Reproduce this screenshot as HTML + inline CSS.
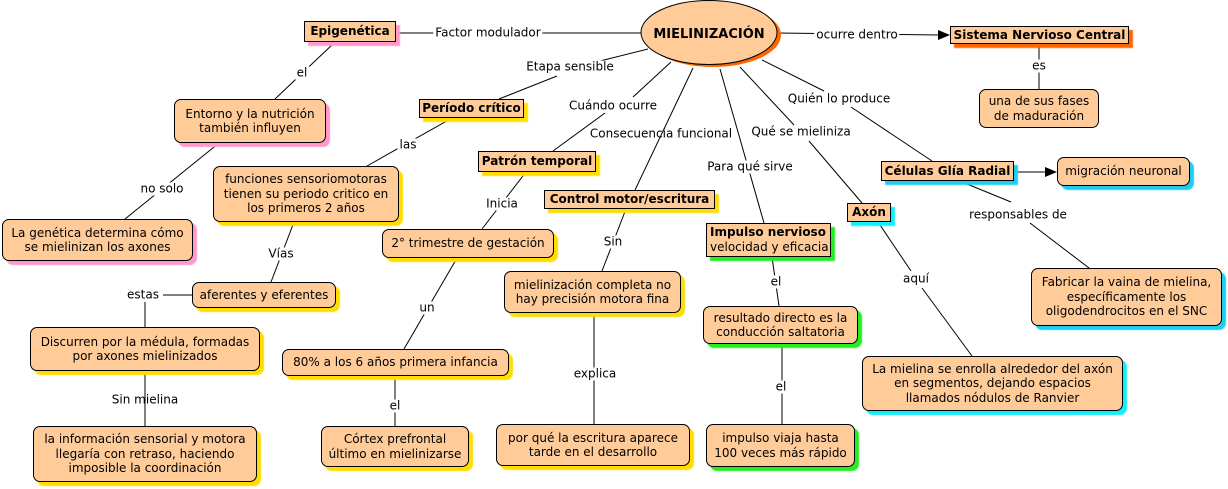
<!DOCTYPE html>
<html><head><meta charset="utf-8"><style>
body{margin:0;background:#fff;}
#c{position:relative;width:1228px;height:489px;overflow:hidden;background:#fff;font-family:"DejaVu Sans","Liberation Sans",sans-serif;font-size:12px;color:#000;}
.n{position:absolute;box-sizing:border-box;background:#ffcc99;border:1px solid #000;display:flex;align-items:center;justify-content:center;text-align:center;line-height:14.5px;white-space:nowrap;}
.r{border-radius:7px;}
.b{font-weight:bold;}
.l{position:absolute;transform:translate(-50%,-50%);background:#fff;padding:0 2px;line-height:13px;white-space:nowrap;}
.pk{box-shadow:4px 4px 1px #ff99cc;}
.or{box-shadow:4px 4px 1px #ff6600;}
.ye{box-shadow:4px 4px 1px #ffdd00;}
.gr{box-shadow:4px 4px 1px #22ee22;}
.cy{box-shadow:4px 4px 1px #22ccf0;}
.cy2{box-shadow:4px 4px 1px #11eeff;}
svg{position:absolute;left:0;top:0;}
</style></head><body><div id="c">
<svg width="1228" height="489">
<g stroke="#000" stroke-width="1" fill="none">
<line x1="396" y1="33" x2="642" y2="33"/>
<line x1="777" y1="33" x2="940" y2="35"/>
<line x1="1039" y1="43" x2="1039" y2="89"/>
<line x1="648" y1="49" x2="600" y2="61"/>
<line x1="557" y1="76" x2="499" y2="99"/>
<line x1="671" y1="62" x2="633" y2="97"/>
<line x1="605" y1="113" x2="553" y2="151"/>
<line x1="693" y1="68" x2="635" y2="190"/>
<line x1="720" y1="69" x2="764" y2="223"/>
<line x1="740" y1="67" x2="794" y2="125"/>
<line x1="809" y1="141" x2="862" y2="203"/>
<line x1="762" y1="60" x2="824" y2="91"/>
<line x1="851" y1="107" x2="932" y2="161"/>
<line x1="1014" y1="172" x2="1046" y2="172"/>
<line x1="967" y1="184" x2="1011" y2="202"/>
<line x1="1030" y1="223" x2="1089" y2="268"/>
<line x1="878" y1="222" x2="911" y2="271"/>
<line x1="922" y1="288" x2="972" y2="356"/>
<line x1="334" y1="43" x2="275" y2="99"/>
<line x1="219" y1="143" x2="125" y2="219"/>
<line x1="452" y1="118" x2="367" y2="166"/>
<line x1="294" y1="222" x2="271" y2="282"/>
<line x1="163" y1="295" x2="192" y2="295"/>
<line x1="145" y1="302" x2="145" y2="327"/>
<line x1="145" y1="371" x2="145" y2="426"/>
<line x1="526" y1="172" x2="482" y2="229"/>
<line x1="457" y1="258" x2="404" y2="349"/>
<line x1="395" y1="376" x2="395" y2="426"/>
<line x1="626" y1="209" x2="602" y2="271"/>
<line x1="594" y1="313" x2="594" y2="424"/>
<line x1="772" y1="257" x2="779" y2="306"/>
<line x1="782" y1="344" x2="782" y2="424"/>
</g>
<polygon points="938,30 950,35 938,40" fill="#000"/>
<polygon points="1045,167 1057,172 1045,177" fill="#000"/>
<ellipse cx="713" cy="35" rx="68" ry="32" fill="#ff6600"/>
<ellipse cx="709" cy="32.5" rx="68" ry="32" fill="#ffcc99" stroke="#000" stroke-width="1"/>
<text x="709" y="38" text-anchor="middle" font-family="DejaVu Sans, Liberation Sans, sans-serif" font-weight="bold" font-size="13">MIELINIZACIÓN</text>
</svg>

<div class="n b pk" style="left:304px;top:21px;width:92px;height:21px;">Epigenética</div>
<div class="n b or" style="left:950px;top:26px;width:179px;height:18px;">Sistema Nervioso Central</div>
<div class="n r" style="left:979px;top:89px;width:120px;height:39px;">una de sus fases<br>de maduración</div>
<div class="n b cy" style="left:881px;top:161px;width:133px;height:20px;">Células Glía Radial</div>
<div class="n r cy" style="left:1057px;top:157px;width:133px;height:29px;">migración neuronal</div>
<div class="n b cy2" style="left:847px;top:203px;width:44px;height:19px;">Axón</div>
<div class="n r cy" style="left:1031px;top:268px;width:191px;height:58px;">Fabricar la vaina de mielina,<br>específicamente los<br>oligodendrocitos en el SNC</div>
<div class="n r cy2" style="left:862px;top:356px;width:261px;height:55px;">La mielina se enrolla alrededor del axón<br>en segmentos, dejando espacios<br>llamados nódulos de Ranvier</div>
<div class="n gr" style="left:706px;top:223px;width:125px;height:34px;display:block;text-align:left;padding:1px 3px;"><b>Impulso nervioso</b><br>velocidad y eficacia</div>
<div class="n r gr" style="left:703px;top:306px;width:155px;height:38px;">resultado directo es la<br>conducción saltatoria</div>
<div class="n r gr" style="left:706px;top:424px;width:149px;height:43px;">impulso viaja hasta<br>100 veces más rápido</div>
<div class="n b ye" style="left:544px;top:190px;width:171px;height:19px;">Control motor/escritura</div>
<div class="n r ye" style="left:504px;top:271px;width:177px;height:42px;">mielinización completa no<br>hay precisión motora fina</div>
<div class="n r ye" style="left:496px;top:424px;width:194px;height:42px;">por qué la escritura aparece<br>tarde en el desarrollo</div>
<div class="n b ye" style="left:478px;top:151px;width:118px;height:21px;">Patrón temporal</div>
<div class="n b ye" style="left:419px;top:99px;width:105px;height:19px;">Período crítico</div>
<div class="n r ye" style="left:382px;top:229px;width:172px;height:29px;">2° trimestre de gestación</div>
<div class="n r ye" style="left:282px;top:349px;width:227px;height:27px;">80% a los 6 años primera infancia</div>
<div class="n r ye" style="left:321px;top:426px;width:148px;height:41px;">Córtex prefrontal<br>último en mielinizarse</div>
<div class="n r ye" style="left:213px;top:166px;width:186px;height:56px;">funciones sensoriomotoras<br>tienen su periodo critico en<br>los primeros 2 años</div>
<div class="n r pk" style="left:174px;top:99px;width:152px;height:44px;">Entorno y la nutrición<br>también influyen</div>
<div class="n r pk" style="left:2px;top:219px;width:191px;height:42px;">La genética determina cómo<br>se mielinizan los axones</div>
<div class="n r ye" style="left:192px;top:282px;width:144px;height:26px;">aferentes y eferentes</div>
<div class="n r ye" style="left:30px;top:327px;width:230px;height:44px;">Discurren por la médula, formadas<br>por axones mielinizados</div>
<div class="n r ye" style="left:33px;top:426px;width:224px;height:56px;">la información sensorial y motora<br>llegaría con retraso, haciendo<br>imposible la coordinación</div>

<span class="l" style="left:488px;top:33px;">Factor modulador</span>
<span class="l" style="left:857px;top:35px;">ocurre dentro</span>
<span class="l" style="left:1039px;top:66px;">es</span>
<span class="l" style="left:570px;top:67px;">Etapa sensible</span>
<span class="l" style="left:613px;top:106px;">Cuándo ocurre</span>
<span class="l" style="left:661px;top:134px;background:transparent;">Consecuencia funcional</span>
<span class="l" style="left:750px;top:167px;">Para qué sirve</span>
<span class="l" style="left:801px;top:132px;">Qué se mieliniza</span>
<span class="l" style="left:839px;top:99px;">Quién lo produce</span>
<span class="l" style="left:1018px;top:215px;">responsables de</span>
<span class="l" style="left:916px;top:279px;">aquí</span>
<span class="l" style="left:302px;top:73px;">el</span>
<span class="l" style="left:162px;top:189px;">no solo</span>
<span class="l" style="left:408px;top:145px;">las</span>
<span class="l" style="left:281px;top:254px;">Vías</span>
<span class="l" style="left:143px;top:295px;">estas</span>
<span class="l" style="left:145px;top:400px;background:transparent;">Sin mielina</span>
<span class="l" style="left:502px;top:204px;">Inicia</span>
<span class="l" style="left:427px;top:308px;">un</span>
<span class="l" style="left:395px;top:406px;">el</span>
<span class="l" style="left:613px;top:242px;">Sin</span>
<span class="l" style="left:595px;top:374px;">explica</span>
<span class="l" style="left:776px;top:282px;">el</span>
<span class="l" style="left:781px;top:387px;">el</span>
</div></body></html>
